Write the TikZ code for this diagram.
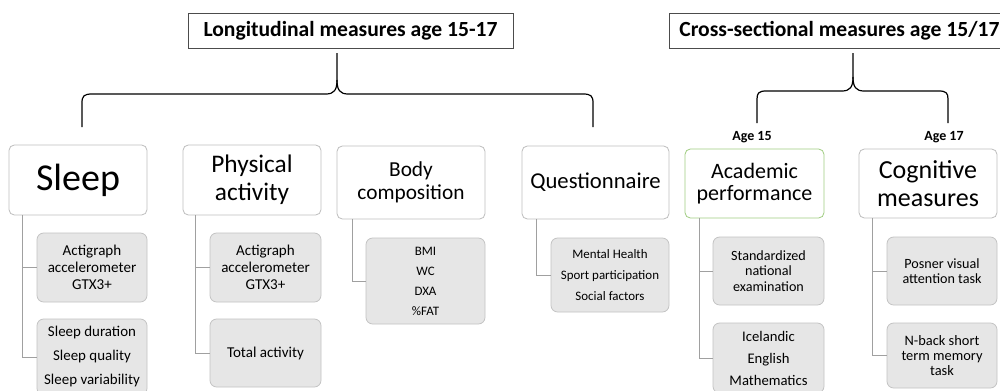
\documentclass[tikz,border=0pt]{standalone}
\usepackage{fontspec}
\setmainfont{Carlito}
\usetikzlibrary{calc}
\definecolor{boxline}{RGB}{190,190,190}
\definecolor{subfill}{RGB}{230,230,230}
\definecolor{subline}{RGB}{195,195,195}
\definecolor{conn}{RGB}{160,160,160}
\definecolor{greenline}{RGB}{160,205,130}
\tikzset{
  titlebox/.style={draw=black!70, line width=0.6pt, fill=white, inner sep=0pt, font=\fontsize{16.2}{19}\selectfont\bfseries},
  mainbox/.style={draw=boxline, line width=0.6pt, fill=white, rounded corners=4pt, inner sep=0pt, align=center},
  subbox/.style={draw=subline, line width=0.6pt, fill=subfill, rounded corners=5pt, inner sep=0pt, align=center},
  conline/.style={draw=conn, line width=0.6pt},
  brace/.style={draw=black, line width=0.9pt},
  agelabel/.style={font=\fontsize{10.5}{12}\selectfont\bfseries, inner sep=0pt}
}
\begin{document}
\begin{tikzpicture}[x=0.75pt,y=-0.75pt]
\useasboundingbox (0,0) rectangle (1000,390);
\clip (0,0) rectangle (1000,390);
\fill[white] (0,0) rectangle (1000,390);

% titles
\node[titlebox, minimum width=325*0.75pt, minimum height=35*0.75pt] (t1) at (350.5,30.5) {Longitudinal measures age 15-17};
\node[titlebox, minimum width=340*0.75pt, minimum height=35*0.75pt, anchor=west] (t2) at (669,30.5) {Cross-sectional measures age 15/17};

% braces
\coordinate (b1top) at (337,53);
\coordinate (b1l) at (82,127);
\coordinate (b1r) at (593,127);
\draw[brace] (b1l) -- (82,103) .. controls (82,96) and (84,94) .. (92,94) -- (326,94) .. controls (334,94) and (337,90) .. (337,80) -- (b1top);
\draw[brace] (b1r) -- (593,103) .. controls (593,96) and (591,94) .. (583,94) -- (348,94) .. controls (340,94) and (337,90) .. (337,80);
\coordinate (b2top) at (853,53);
\coordinate (b2l) at (757,123);
\coordinate (b2r) at (948,123);
\draw[brace] (b2l) -- (757,99) .. controls (757,93) and (759,91) .. (766,91) -- (842,91) .. controls (850,91) and (853,87) .. (853,77) -- (b2top);
\draw[brace] (b2r) -- (948,99) .. controls (948,93) and (946,91) .. (939,91) -- (864,91) .. controls (856,91) and (853,87) .. (853,77);

% age labels
\node[agelabel] (a15) at (752,137.5) {Age 15};
\node[agelabel] (a17) at (944,137.5) {Age 17};

% main boxes
\node[mainbox, minimum width=138*0.75pt, minimum height=70*0.75pt, font=\fontsize{28.5}{32}\selectfont] (sleep) at (78,180) {Sleep};
\node[mainbox, minimum width=138*0.75pt, minimum height=70*0.75pt, font=\fontsize{19}{21}\selectfont] (pa) at (252,180) {Physical\\activity};
\node[mainbox, minimum width=148*0.75pt, minimum height=73*0.75pt, font=\fontsize{16}{17.2}\selectfont] (body) at (411,182.5) {Body\\composition};
\node[mainbox, minimum width=147*0.75pt, minimum height=73*0.75pt, font=\fontsize{17}{19}\selectfont] (quest) at (595.5,182.5) {Questionnaire};
\node[mainbox, draw=greenline, minimum width=139*0.75pt, minimum height=69*0.75pt, font=\fontsize{16.5}{17}\selectfont] (acad) at (754.5,183.5) {Academic\\performance};
\node[mainbox, minimum width=138*0.75pt, minimum height=69*0.75pt, font=\fontsize{19.5}{20.5}\selectfont] (cog) at (928,183.5) {Cognitive\\measures};

% sub boxes
\node[subbox, minimum width=110*0.75pt, minimum height=69*0.75pt, font=\fontsize{11.3}{12.75}\selectfont] (s1) at (92,267.5) {Actigraph\\accelerometer\\GTX3+};
\node[subbox, minimum width=110*0.75pt, minimum height=76*0.75pt, font=\fontsize{11.2}{18}\selectfont] (s2) at (92,357) {Sleep duration\\Sleep quality\\Sleep variability};
\node[subbox, minimum width=111*0.75pt, minimum height=69*0.75pt, font=\fontsize{11.3}{12.75}\selectfont] (p1) at (265.5,267.5) {Actigraph\\accelerometer\\GTX3+};
\node[subbox, minimum width=111*0.75pt, minimum height=68*0.75pt, font=\fontsize{11.3}{13}\selectfont] (p2) at (265.5,353) {Total activity};
\node[subbox, minimum width=119*0.75pt, minimum height=86*0.75pt, font=\fontsize{9.7}{15}\selectfont] (bd1) at (425.5,281) {BMI\\WC\\DXA\\\%FAT};
\node[subbox, minimum width=118*0.75pt, minimum height=74*0.75pt, font=\fontsize{9.7}{15.5}\selectfont] (q1) at (610,275) {Mental Health\\Sport participation\\Social factors};
\node[subbox, minimum width=111*0.75pt, minimum height=68*0.75pt, font=\fontsize{10.6}{11.8}\selectfont] (ac1) at (768.5,271) {Standardized\\national\\examination};
\node[subbox, minimum width=111*0.75pt, minimum height=70*0.75pt, font=\fontsize{11}{16.5}\selectfont] (ac2) at (768.5,358) {Icelandic\\English\\Mathematics};
\node[subbox, minimum width=110*0.75pt, minimum height=68*0.75pt, font=\fontsize{10.6}{11}\selectfont] (c1) at (942,271) {Posner visual\\attention task};
\node[subbox, minimum width=110*0.75pt, minimum height=65*0.75pt, font=\fontsize{10.8}{11.5}\selectfont] (c2) at (942,355.5) {N-back short\\term memory\\task};

% connectors
\draw[conline] ($(sleep.south west)+(14,0)$) |- (s1.west);
\draw[conline] ($(sleep.south west)+(14,0)$) |- (s2.west);
\draw[conline] ($(pa.south west)+(13,0)$) |- (p1.west);
\draw[conline] ($(pa.south west)+(13,0)$) |- (p2.west);
\draw[conline] ($(body.south west)+(16,0)$) |- (bd1.west);
\draw[conline] ($(quest.south west)+(15,0)$) |- (q1.west);
\draw[conline] ($(acad.south west)+(15,0)$) |- (ac1.west);
\draw[conline] ($(acad.south west)+(15,0)$) |- (ac2.west);
\draw[conline] ($(cog.south west)+(14,0)$) |- (c1.west);
\draw[conline] ($(cog.south west)+(14,0)$) |- (c2.west);
\end{tikzpicture}
\end{document}
